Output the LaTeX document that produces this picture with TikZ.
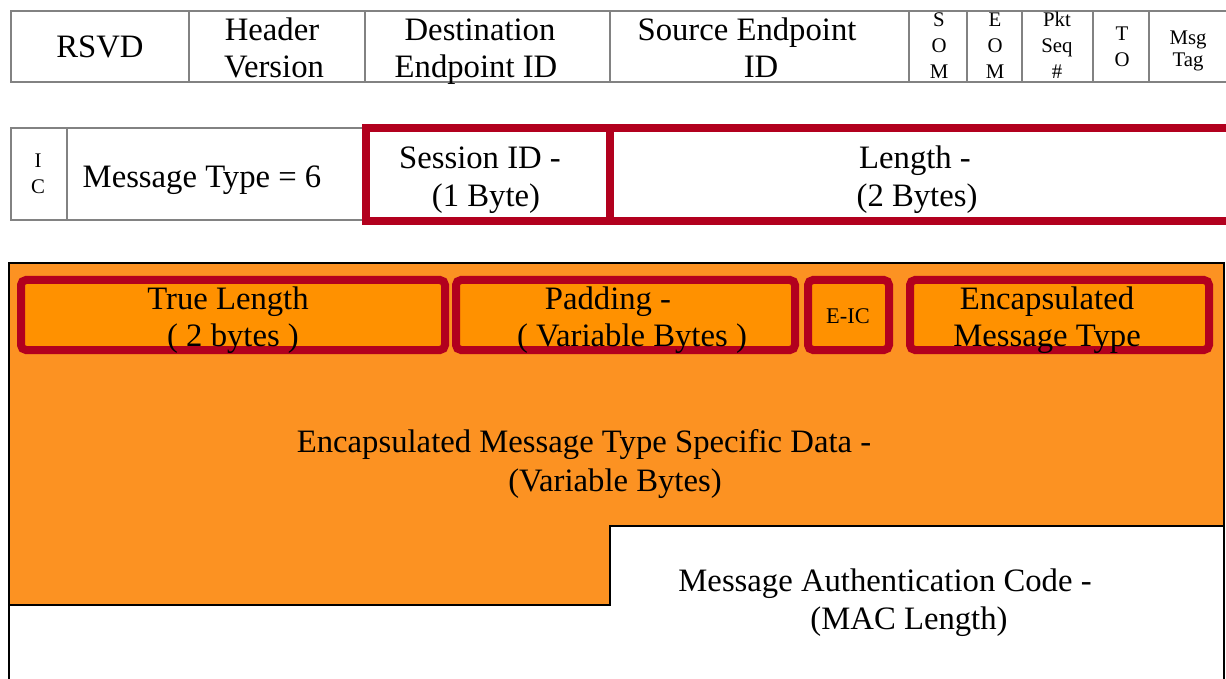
\documentclass[tikz,border=0pt]{standalone}
\usepackage{fontspec}
\setmainfont{Liberation Serif}
\usetikzlibrary{fit}
\definecolor{redbox}{RGB}{178,0,30}
\definecolor{orouter}{RGB}{252,146,34}
\definecolor{orinner}{RGB}{255,145,0}
\definecolor{cellgray}{RGB}{130,130,130}
\begin{document}
\begin{tikzpicture}[x=0.5pt,y=-0.5pt,
  cell/.style={draw=cellgray, line width=0.8pt, inner sep=0pt, outer sep=0pt},
  redcell/.style={draw=redbox, line width=3.6pt, inner sep=0pt, outer sep=0pt},
  subbox/.style={draw=redbox, fill=orinner, line width=4pt, rounded corners=2.5pt, inner sep=0pt, outer sep=0pt},
  big/.style={anchor=base, inner sep=0pt, font=\fontsize{16.35pt}{19pt}\selectfont},
  small/.style={anchor=base, inner sep=0pt, font=\fontsize{10.4pt}{12pt}\selectfont}]
\useasboundingbox (0,0) rectangle (1226,679);
\clip (0,0) rectangle (1226,679);
\fill[white] (0,0) rectangle (1226,679);

% ---------- row 1 ----------
\node[cell, fit={(11,11) (189,82)}] (rsvd) {};
\node[cell, fit={(189,11) (365,82)}] (hver) {};
\node[cell, fit={(365,11) (610,82)}] (dest) {};
\node[cell, fit={(610,11) (909,82)}] (src) {};
\node[cell, fit={(909,11) (967,82)}] (som) {};
\node[cell, fit={(967,11) (1022,82)}] (eom) {};
\node[cell, fit={(1022,11) (1093,82)}] (pkt) {};
\node[cell, fit={(1093,11) (1149,82)}] (to) {};
\node[cell, fit={(1149,11) (1245,82)}] (tag) {};

\node[big] (trsvd) at (100,58) {RSVD};
\node[big] (thv1) at (272,41) {Header};
\node[big] (thv2) at (274,78) {Version};
\node[big] (tde1) at (480,41) {Destination};
\node[big] (tde2) at (476,78) {Endpoint ID};
\node[big] (tsr1) at (747,41) {Source Endpoint};
\node[big] (tsr2) at (761,78) {ID};
\node[small] (tso1) at (939,27) {S};
\node[small] (tso2) at (939,53) {O};
\node[small] (tso3) at (939,79) {M};
\node[small] (teo1) at (995,27) {E};
\node[small] (teo2) at (995,53) {O};
\node[small] (teo3) at (995,79) {M};
\node[small] (tpk1) at (1057,27) {Pkt};
\node[small] (tpk2) at (1057,53) {Seq};
\node[small] (tpk3) at (1057,79) {\#};
\node[small] (tto1) at (1122,41) {T};
\node[small] (tto2) at (1122,67) {O};
\node[small] (ttg1) at (1188,45) {Msg};
\node[small] (ttg2) at (1188,67) {Tag};

% ---------- row 2 ----------
\node[cell, fit={(11,128) (67,220)}] (ic) {};
\node[cell, fit={(67,128) (366,220)}] (mtype) {};
\node[redcell, fit={(366,128) (610,221)}] (sess) {};
\node[redcell, fit={(610,128) (1245,221)}] (len) {};

\node[small] (tic1) at (38,168) {I};
\node[small] (tic2) at (38,194) {C};
\node[big] (tmt) at (202,188) {Message Type = 6};
\node[big] (tse1) at (480,169) {Session ID -};
\node[big] (tse2) at (486,207) {(1 Byte)};
\node[big] (tle1) at (915,169) {Length -};
\node[big] (tle2) at (917,207) {(2 Bytes)};

% ---------- body ----------
\fill[orouter] (9,263) -- (1224,263) -- (1224,526) -- (610,526) -- (610,605) -- (9,605) -- cycle;
\draw[black, line width=1pt] (9,700) -- (9,263) -- (1224,263) -- (1224,700);
\coordinate (stepA) at (9,605);
\coordinate (stepB) at (610,605);
\coordinate (stepC) at (610,526);
\coordinate (stepD) at (1224,526);
\draw[black, line width=1.4pt] (stepA) -- (stepB) -- (stepC) -- (stepD);

\node[subbox, fit={(21,280) (445,350)}] (tlen) {};
\node[subbox, fit={(456,280) (795,350)}] (pad) {};
\node[subbox, fit={(808,280) (889,350)}] (eic) {};
\node[subbox, fit={(910,280) (1209,350)}] (emt) {};

\node[big] (ttl1) at (228,309) {True Length};
\node[big] (ttl2) at (233,346) {( 2 bytes )};
\node[big] (tpa1) at (608,309) {Padding -};
\node[big] (tpa2) at (632,346) {( Variable Bytes )};
\node[small, font=\fontsize{11.2pt}{13pt}\selectfont] (teic) at (848,323) {E-IC};
\node[big] (tem1) at (1047,309) {Encapsulated};
\node[big] (tem2) at (1047,346) {Message Type};

\node[big] (tsd1) at (584,452) {Encapsulated Message Type Specific Data -};
\node[big] (tsd2) at (615,491) {(Variable Bytes)};
\node[big] (tmac1) at (885,591) {Message Authentication Code -};
\node[big] (tmac2) at (909,629) {(MAC Length)};
\end{tikzpicture}
\end{document}
